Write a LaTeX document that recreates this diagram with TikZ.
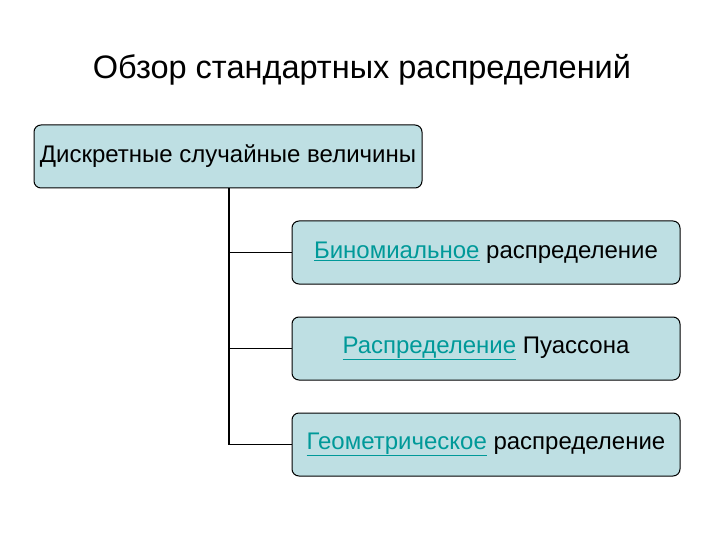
\documentclass[tikz,border=0pt]{standalone}
\usepackage{fontspec}
\setmainfont{Liberation Sans}
\definecolor{boxfill}{HTML}{BEDFE3}
\definecolor{linkc}{HTML}{009999}
\newcommand{\lnk}[1]{\textcolor{linkc}{\underline{#1}}}
\begin{document}
\begin{tikzpicture}[x=1pt,y=-1pt,
  box/.style={draw=black,line width=1pt,fill=boxfill,rounded corners=7pt,minimum width=388pt,minimum height=63pt,inner sep=0pt,font=\fontsize{24}{28}\selectfont},
  conn/.style={line width=1.5pt}]
\useasboundingbox (0,0) rectangle (720,540);
\node[font=\fontsize{32.5}{36}\selectfont] (title) at (362,70) {Обзор стандартных распределений};
\node[box] (top) at (228,156.5) {Дискретные случайные величины};
\node[box] (b1) at (486,252.5) {\lnk{Биномиальное} распределение};
\node[box] (b2) at (486,348.5) {\lnk{Распределение} Пуассона};
\node[box] (b3) at (486,444.5) {\lnk{Геометрическое} распределение};
\coordinate (v) at (229,0);
\draw[conn] (v |- top.south) |- (b3.west);
\draw[conn] (v |- b1.west) -- (b1.west);
\draw[conn] (v |- b2.west) -- (b2.west);
\end{tikzpicture}
\end{document}
